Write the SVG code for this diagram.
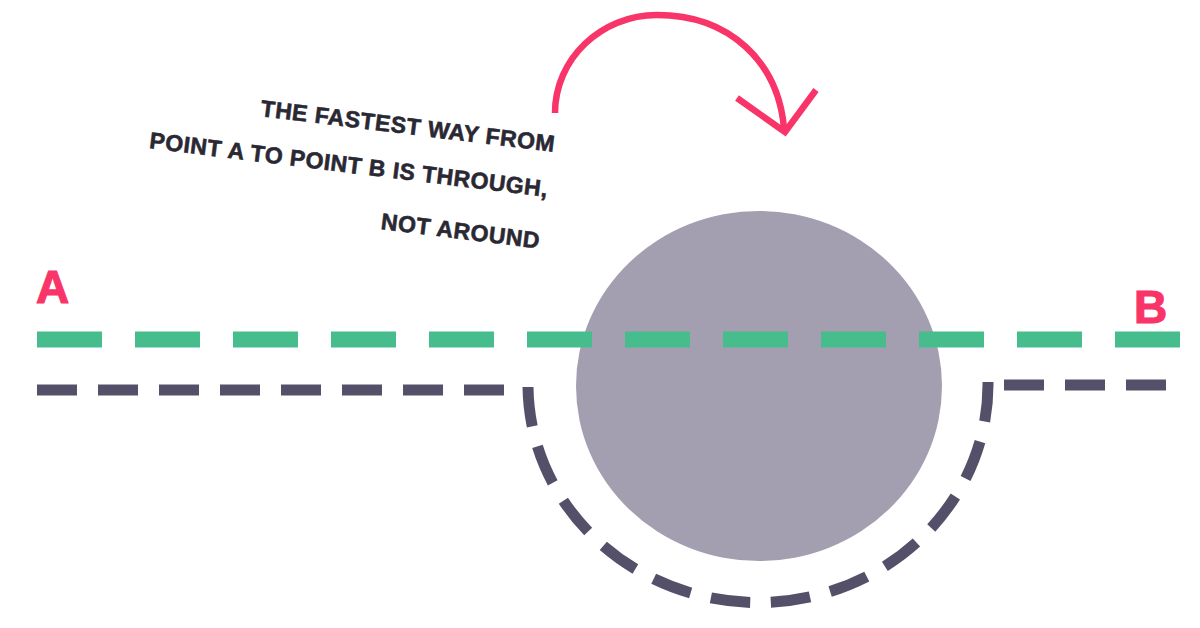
<svg xmlns="http://www.w3.org/2000/svg" width="1200" height="628" viewBox="0 0 1200 628">
  <style>
    .caption { font-family: "Liberation Sans", Arial, sans-serif; font-weight: 700; font-size: 23px; letter-spacing: 0.5px; fill: #2a2833; stroke: #2a2833; stroke-width: 0.6; text-anchor: end; }
    .point { font-family: "Liberation Sans", Arial, sans-serif; font-weight: 700; font-size: 46px; fill: #f83468; stroke: #f83468; stroke-width: 1.2; }
    .through { fill: none; stroke: #47bd8d; stroke-width: 16; stroke-dasharray: 65 33; }
    .around { fill: none; stroke: #55506a; stroke-width: 11; stroke-dasharray: 40 21; }
    .pink { fill: none; stroke: #f83468; stroke-width: 6.5; }
  </style>
  <rect width="1200" height="628" fill="#ffffff"/>

  <g id="obstacle">
    <ellipse cx="759" cy="386" rx="183" ry="175" fill="#a39fb0"/>
  </g>

  <g id="connectors">
    <path class="through" d="M37,339.5 H1180"/>
    <path class="around" d="M37,390 H504"/>
    <path class="around" d="M528,387 A230,218 0 0 0 988,382" pathLength="711"/>
    <path class="around" d="M1004,385 H1166"/>
  </g>

  <g id="point-a">
    <text class="point" x="36" y="303">A</text>
  </g>
  <g id="point-b">
    <text class="point" x="1134" y="323">B</text>
  </g>

  <g id="caption">
    <text class="caption" transform="translate(554,152) rotate(7)">THE FASTEST WAY FROM</text>
    <text class="caption" transform="translate(547,197) rotate(7)">POINT A TO POINT B IS THROUGH,</text>
    <text class="caption" transform="translate(539,248.5) rotate(7)">NOT AROUND</text>
  </g>

  <g id="arrow">
    <path class="pink" d="M555,113 C555,59 601,15 657,15 C 730,15 778,62 784,128"/>
    <polyline class="pink" points="737,98 785,132 816,90"/>
  </g>
</svg>
